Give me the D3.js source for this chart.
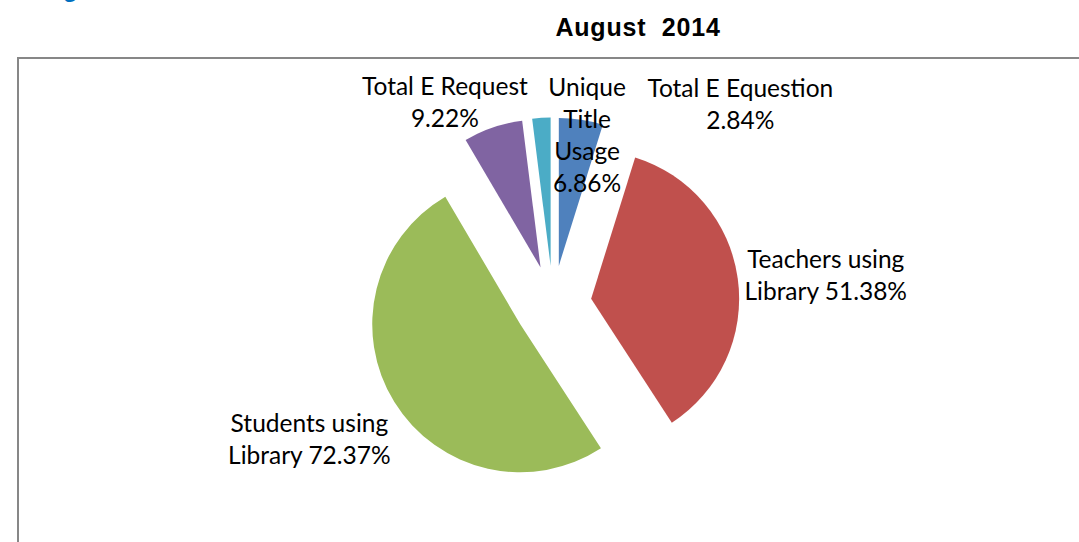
<!DOCTYPE html>
<html>
<head>
<meta charset="utf-8">
<script src="https://cdn.jsdelivr.net/npm/d3@7"></script>
<style>
  html, body { margin: 0; padding: 0; background: #fff; overflow: hidden; }
  svg { display: block; }
</style>
</head>
<body>
<svg id="chart" width="1079" height="542"></svg>
<script>
document.addEventListener("DOMContentLoaded", function() {

    // Data
    const categories = ["Unique Title Usage", "Teachers using Library", "Students using Library", "Total E Request", "Total E Equestion"];
    const values = [6.86, 51.38, 72.37, 9.22, 2.84];
    const labelLines = [
        ["Unique", "Title", "Usage", "6.86%"],
        ["Teachers using", "Library 51.38%"],
        ["Students using", "Library 72.37%"],
        ["Total E Request", "9.22%"],
        ["Total E Equestion", "2.84%"]
    ];
    const colors = ["#4f81bd", "#c0504d", "#9bbb59", "#8064a2", "#4bacc6"];
    const chartTitle = "August  2014";

    // Layout
    const W = 1079, H = 542;
    const cx = 553, cy = 304, radius = 148, explode = 38.5;
    const lineHeight = 32;
    // label nudges from the outer edge of each slice (Excel moved them around)
    const labelNudge = [[6, 16], [88, -2], [-85, 38], [-48, -24], [199, -13]];

    const svg = d3.select("#chart");

    // cropped heading fragment at top left
    svg.append("text")
        .attr("x", 63)
        .attr("y", -3)
        .style("font-family", "'Liberation Sans', Arial, sans-serif")
        .style("font-weight", "bold")
        .style("font-size", "24px")
        .attr("fill", "#0070c0")
        .text("g");

    // chart frame (runs off the right and bottom edge)
    svg.append("rect")
        .attr("x", 18)
        .attr("y", 58)
        .attr("width", W)
        .attr("height", H)
        .attr("fill", "none")
        .attr("stroke", "#878787")
        .attr("stroke-width", 2);

    svg.append("text")
        .attr("x", 638)
        .attr("y", 36)
        .attr("text-anchor", "middle")
        .style("font-family", "'Liberation Sans', Arial, sans-serif")
        .style("font-weight", "bold")
        .style("font-size", "25px")
        .style("letter-spacing", "0.8px")
        .style("white-space", "pre")
        .attr("fill", "#000")
        .text(chartTitle);

    ////////// Pie //////////
    const pie = d3.pie().sort(null).value(d => d);
    const arcs = pie(values);
    const arc = d3.arc().innerRadius(0).outerRadius(radius);

    const g = svg.append("g").attr("transform", `translate(${cx},${cy})`);

    function offset(d, dist) {
        const mid = (d.startAngle + d.endAngle) / 2;
        return [dist * Math.sin(mid), -dist * Math.cos(mid)];
    }

    g.selectAll("path")
        .data(arcs)
        .enter().append("path")
        .attr("d", arc)
        .attr("fill", (d, i) => colors[i])
        .attr("transform", d => {
            const [ox, oy] = offset(d, explode);
            return `translate(${ox},${oy})`;
        });

    ////////// Labels //////////
    const labels = g.selectAll("text.lbl")
        .data(arcs)
        .enter().append("text")
        .attr("class", "lbl")
        .attr("text-anchor", "middle")
        .style("font-family", "Lato, 'Open Sans', sans-serif")
        .style("font-size", "24.5px")
        .attr("fill", "#000");

    labels.each(function(d, i) {
        const [ox, oy] = offset(d, explode + radius);
        const lx = ox + labelNudge[i][0];
        const ly = oy + labelNudge[i][1];
        const lines = labelLines[i];
        d3.select(this).selectAll("tspan")
            .data(lines)
            .enter().append("tspan")
            .attr("x", lx)
            .attr("y", (t, j) => ly + (j - (lines.length - 1) / 2) * lineHeight + 8)
            .text(t => t);
    });
});
</script>
</body>
</html>
